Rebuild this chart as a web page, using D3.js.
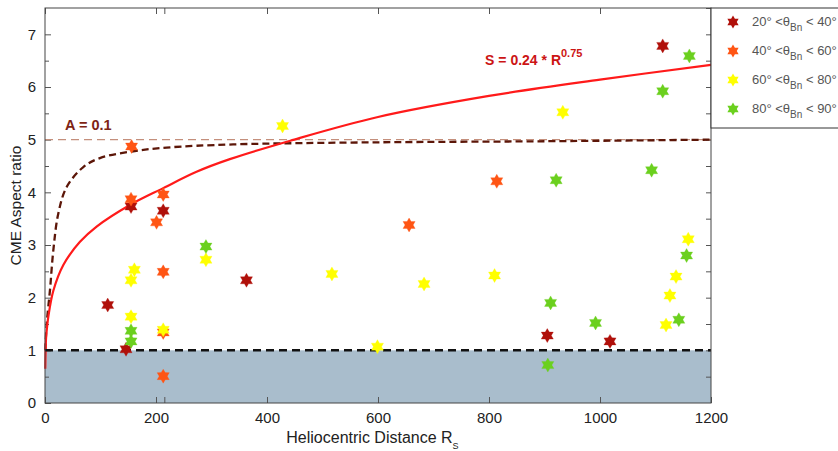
<!DOCTYPE html>
<html>
<head>
<meta charset="utf-8">
<script src="https://cdn.jsdelivr.net/npm/d3@7"></script>
<style>
  body { margin: 0; background: #fff; }
  svg { font-family: Arial, "Liberation Sans", sans-serif; }
  .axis text { font-size: 15px; fill: #222; }
  .axis path, .axis line { stroke: #555; }
</style>
</head>
<body>
<svg id="chart" width="838" height="451"></svg>
<script>
// stars per theta_Bn range: [distance Rs, aspect ratio]
var theta20 = [[113,1.86],[146,1.02],[155,3.73],[213,3.65],[363,2.33],[905,1.28],[1018,1.17],[1113,6.78]];
var theta40 = [[155,3.87],[156,4.87],[201,3.43],[213,3.96],[213,2.49],[213,1.34],[213,0.51],[656,3.38],[814,4.21]];
var theta60 = [[155,2.33],[161,2.53],[155,1.64],[213,1.39],[290,2.72],[428,5.26],[517,2.45],[599,1.07],[683,2.26],
               [810,2.42],[933,5.52],[1119,1.48],[1126,2.04],[1137,2.40],[1159,3.11]];
var theta80 = [[155,1.37],[155,1.17],[290,2.97],[906,0.72],[911,1.90],[921,4.23],[992,1.52],[1093,4.42],
               [1113,5.92],[1142,1.58],[1156,2.80],[1161,6.59]];

// fit curves
var fitS = [[0.5,0.65],[1,0.95],[2,1.25],[4,1.47],[6,1.64],[15,2.13],[33,2.62],[63,3.06],[93,3.35],[153,3.76],
            [213,4.08],[273,4.39],[333,4.63],[442,4.98],[600,5.43],[800,5.83],[1000,6.14],[1200,6.42]];
var fitA = [[0.5,1.0],[3,1.5],[9,2.15],[15,2.9],[24,3.6],[39,4.1],[69,4.48],[99,4.65],[159,4.78],[219,4.85],
            [339,4.91],[600,4.95],[900,4.97],[1200,5.0]];

var xTicks = [0, 200, 400, 600, 800, 1000, 1200];
var yTicks = [0, 1, 2, 3, 4, 5, 6, 7];
var legendLabels = [["20°", "40°"], ["40°", "60°"], ["60°", "80°"], ["80°", "90°"]];
var colors = ["#b0100a", "#ff5514", "#ffff00", "#6bd01e"];

var svg = d3.select("#chart"),
    margin = {top: 8, right: 127, bottom: 48, left: 45},
    width = +svg.attr("width") - margin.left - margin.right,
    height = +svg.attr("height") - margin.top - margin.bottom;

var x = d3.scaleLinear().domain([0, 1200]).range([0, width]),
    y = d3.scaleLinear().domain([0, 7.5]).range([height, 0]);

var g = svg.append("g")
    .attr("transform", "translate(" + margin.left + "," + margin.top + ")");

// shaded region below ratio 1
g.append("rect")
    .attr("x", x(0)).attr("y", y(1))
    .attr("width", x(1200) - x(0)).attr("height", y(0) - y(1))
    .style("fill", "#a9bdcc");

// axes with inward ticks
g.append("g").attr("class", "axis")
    .attr("transform", "translate(0," + height + ")")
    .call(d3.axisBottom(x).tickValues(xTicks).tickSize(-6).tickPadding(9).tickFormat(d3.format("d")));
g.append("g").attr("class", "axis")
    .attr("transform", "translate(0," + height + ")")
    .call(d3.axisBottom(x).tickValues([215]).tickSize(-6).tickFormat(""));
g.append("g").attr("class", "axis")
    .call(d3.axisTop(x).tickValues(xTicks.concat([215])).tickSize(-6).tickFormat(""));
g.append("g").attr("class", "axis")
    .call(d3.axisLeft(y).tickValues(yTicks).tickSize(-6).tickPadding(9).tickFormat(d3.format("d")));
g.append("g").attr("class", "axis")
    .call(d3.axisLeft(y).tickValues(d3.range(0.5, 7.5, 1)).tickSize(-4).tickFormat(""));
g.append("g").attr("class", "axis")
    .attr("transform", "translate(" + width + ",0)")
    .call(d3.axisRight(y).tickValues(d3.range(0.5, 7.6, 0.5)).tickSize(-5).tickFormat(""));
g.selectAll(".axis .domain").remove();

// reference lines
var line = d3.line().x(function(d) { return x(d[0]); }).y(function(d) { return y(d[1]); });
var smooth = d3.line().x(function(d) { return x(d[0]); }).y(function(d) { return y(d[1]); })
    .curve(d3.curveCatmullRom.alpha(0.5));

g.append("path")
    .datum([[0, 5], [1200, 5]])
    .attr("d", line)
    .style("fill", "none").style("stroke", "#c48f7c").style("stroke-width", 1.4)
    .style("stroke-dasharray", "8,5");

g.append("path")
    .datum(fitA)
    .attr("d", smooth)
    .style("fill", "none").style("stroke", "#5c1608").style("stroke-width", 2.3)
    .style("stroke-dasharray", "7,4");

g.append("path")
    .datum(fitS)
    .attr("d", smooth)
    .style("fill", "none").style("stroke", "#ff1a1a").style("stroke-width", 2.2);

g.append("path")
    .datum([[0, 1], [1200, 1]])
    .attr("d", line)
    .style("fill", "none").style("stroke", "#111").style("stroke-width", 2.5)
    .style("stroke-dasharray", "8,5");

// six pointed star
function star(r) {
  var pts = [];
  for (var i = 0; i < 12; i++) {
    var a = Math.PI / 6 * i - Math.PI / 2,
        rr = i % 2 ? r * 0.58 : r;
    pts.push([rr * Math.cos(a), rr * Math.sin(a)]);
  }
  return "M" + pts.join("L") + "Z";
}

[theta20, theta40, theta60, theta80].forEach(function(data, i) {
  g.selectAll(".star" + i)
    .data(data)
    .enter().append("path")
      .attr("class", "star" + i)
      .attr("transform", function(d) { return "translate(" + x(d[0]) + "," + y(d[1]) + ")"; })
      .attr("d", star(7))
      .style("fill", colors[i])
      .style("stroke", colors[i]).style("stroke-width", 0.6).style("stroke-opacity", 0.5);
});

// frame
g.append("rect")
    .attr("width", width).attr("height", height)
    .style("fill", "none").style("stroke", "#444").style("stroke-width", 1);

// annotations
g.append("text")
    .attr("x", x(36)).attr("y", y(5) - 10)
    .style("font-size", "14.5px").style("font-weight", "bold").style("fill", "#7e2414")
    .text("A = 0.1");

var sText = g.append("text")
    .attr("x", x(793)).attr("y", 57)
    .style("font-size", "14px").style("font-weight", "bold").style("fill", "#cc1414");
sText.append("tspan").text("S = 0.24 * R");
sText.append("tspan").attr("dy", -8).style("font-size", "11px").text("0.75");

// axis titles
var xl = svg.append("text")
    .attr("x", margin.left + x(590)).attr("y", 443)
    .attr("text-anchor", "middle")
    .style("font-size", "16px").style("fill", "#222");
xl.append("tspan").text("Heliocentric Distance R");
xl.append("tspan").attr("dy", 6).style("font-size", "9px").text("S");

svg.append("text")
    .attr("transform", "translate(21," + (margin.top + y(3.75)) + ") rotate(-90)")
    .attr("text-anchor", "middle")
    .style("font-size", "15.5px").style("fill", "#222")
    .text("CME Aspect ratio");

// legend
var legend = svg.append("g").attr("transform", "translate(" + (margin.left + width) + "," + margin.top + ")");
legend.append("rect")
    .attr("width", 140).attr("height", 120)
    .style("fill", "#fff").style("stroke", "#333");

legendLabels.forEach(function(lab, i) {
  var row = legend.append("g").attr("transform", "translate(0," + (14 + i * 29) + ")");
  row.append("path")
      .attr("transform", "translate(22,0)")
      .attr("d", star(6.5))
      .style("fill", colors[i]);
  var t = row.append("text")
      .attr("x", 41).attr("y", 4)
      .style("font-size", "13px").style("fill", "#555");
  t.append("tspan").text(lab[0] + " <θ");
  t.append("tspan").attr("dy", 5).style("font-size", "10px").text("Bn");
  t.append("tspan").attr("dy", -5).text(" < " + lab[1]);
});
</script>
</body>
</html>
